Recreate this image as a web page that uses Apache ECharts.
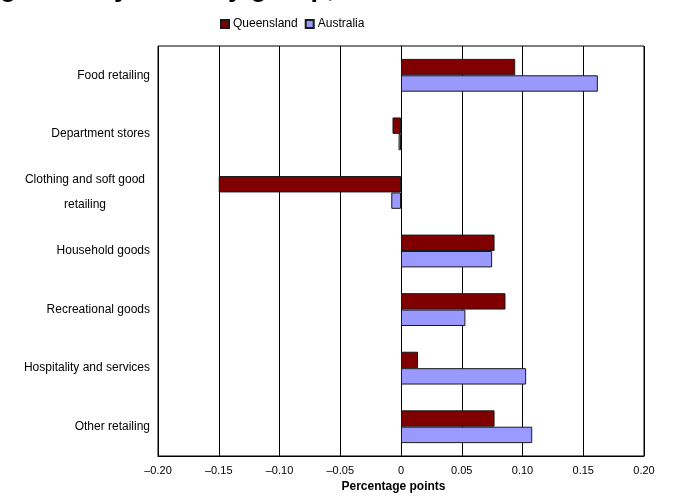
<!DOCTYPE html>
<html>
<head>
<meta charset="utf-8">
<script src="https://cdn.jsdelivr.net/npm/echarts@6/dist/echarts.min.js"></script>
<style>
html,body{margin:0;padding:0;background:#fff;}
#chart{width:674px;height:496px;}
</style>
</head>
<body>
<div id="chart"></div>
<script>
var categories = ['Food retailing', 'Department stores', 'Clothing and soft good retailing', 'Household goods', 'Recreational goods', 'Hospitality and services', 'Other retailing'];
var queensland = [0.094, -0.007, -0.150, 0.077, 0.086, 0.014, 0.077];
var australia = [0.162, -0.002, -0.008, 0.075, 0.053, 0.103, 0.108];
var titleText = 'growth by industry group,';
var axisTitle = 'Percentage points';

var chart = echarts.init(document.getElementById('chart'));
var FONT = 'Liberation Sans, Arial, sans-serif';
chart.setOption({
  animation: false,
  textStyle: { fontFamily: FONT },
  graphic: [{
    type: 'text',
    x: 0,
    y: 2,
    style: {
      text: titleText,
      font: 'bold 27px ' + FONT,
      fill: '#000',
      verticalAlign: 'bottom'
    }
  }],
  legend: {
    left: 215,
    top: 13,
    itemWidth: 8,
    itemHeight: 8,
    itemGap: 7,
    icon: 'rect',
    textStyle: { fontSize: 12, color: '#000', fontFamily: FONT, padding: [0, 0, 0, -1] },
    data: ['Queensland', 'Australia']
  },
  grid: {
    left: 158, right: 30, top: 46, bottom: 40,
    outerBoundsMode: 'none',
    containLabel: false,
    show: true, borderColor: '#000', borderWidth: 1
  },
  xAxis: {
    type: 'value',
    min: -0.2, max: 0.2, interval: 0.05,
    name: axisTitle,
    nameLocation: 'middle',
    nameGap: 25,
    nameTextStyle: { fontWeight: 'bold', fontSize: 12, color: '#000', padding: [0, 15, 0, 0] },
    axisLine: { show: true, lineStyle: { color: '#000', width: 1 } },
    axisTick: { show: false },
    splitLine: { show: true, lineStyle: { color: '#000', width: 1 } },
    axisLabel: {
      fontSize: 11, color: '#000', margin: 9,
      formatter: function (v) {
        if (Math.abs(v) < 1e-9) return '0';
        return (v < 0 ? '\u2013' : '') + Math.abs(v).toFixed(2);
      }
    }
  },
  yAxis: {
    type: 'category',
    inverse: true,
    data: categories,
    axisLine: { show: true, lineStyle: { color: '#000', width: 1 } },
    axisTick: { show: false },
    axisLabel: {
      fontSize: 12, color: '#000', margin: 8,
      formatter: function (v) {
        if (v === 'Clothing and soft good retailing') {
          return '{c|Clothing and soft good}\n{c|retailing}';
        }
        return v;
      },
      rich: {
        c: { width: 130, align: 'center', fontSize: 12, color: '#000', lineHeight: 25, fontFamily: FONT }
      }
    }
  },
  series: [{
    name: 'Queensland',
    type: 'bar',
    data: queensland,
    barGap: '0%',
    barCategoryGap: '44%',
    itemStyle: { color: '#800000', borderColor: '#1a1a1a', borderWidth: 1 }
  }, {
    name: 'Australia',
    type: 'bar',
    data: australia,
    barGap: '0%',
    barCategoryGap: '44%',
    itemStyle: { color: '#9999FF', borderColor: '#1a1a1a', borderWidth: 1 }
  }]
});
</script>
</body>
</html>
